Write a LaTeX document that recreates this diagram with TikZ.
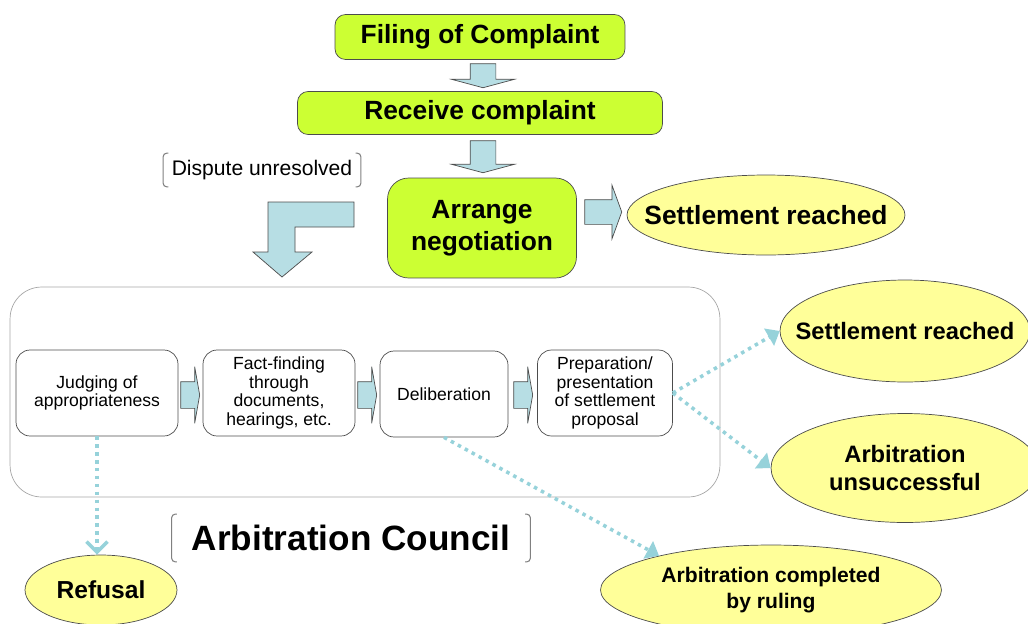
\documentclass[tikz,border=0pt]{standalone}
\usepackage{fontspec}
\setmainfont{Liberation Sans}
\usetikzlibrary{shapes.geometric,shapes.arrows,arrows.meta}
\tikzset{>=latex}
\definecolor{stepgreen}{RGB}{204,255,51}
\definecolor{endyellow}{RGB}{255,255,153}
\definecolor{flowblue}{RGB}{183,222,228}
\definecolor{dotblue}{RGB}{150,210,218}
\tikzset{
  greenbox/.style={draw=gray!60!black, fill=stepgreen, rounded corners=6pt, align=center, font=\bfseries\fontsize{15}{18}\selectfont},
  endnode/.style={draw=gray!60!black, fill=endyellow, ellipse, align=center, inner xsep=-14pt, inner ysep=0pt, font=\bfseries\fontsize{13.5}{16}\selectfont},
  stagebox/.style={draw=gray!60!black, rounded corners=8pt, minimum height=1.72cm, align=center, font=\fontsize{10}{10.5}\selectfont},
  blockarrow/.style={single arrow, draw=gray!60!black, fill=flowblue, inner xsep=0pt, single arrow tip angle=150},
  dotarrow/.style={dotblue, line width=2pt, dash pattern=on 2pt off 2.5pt, -{Triangle[length=7pt,width=11pt]}},
  bracketline/.style={draw=gray, line width=0.6pt, rounded corners=2pt}
}

\begin{document}
\begin{tikzpicture}[x=0.02cm, y=-0.02cm]
  \useasboundingbox (0,0) rectangle (1028,623);
  % upper part
  \node[greenbox, minimum width=5.8cm, minimum height=0.9cm] (filing) at (480,37) {Filing of Complaint};
  \node[greenbox, minimum width=7.3cm, minimum height=0.86cm] (receive) at (480,113) {Receive complaint};
  \node[greenbox, rounded corners=12pt, minimum width=3.78cm, minimum height=2cm] (arrange) at (482,228) {Arrange\\negotiation};
  \node[endnode, font=\bfseries\fontsize{15}{18}\selectfont, minimum width=5.56cm, minimum height=1.6cm] (settle1) at (766,215) {Settlement reached};
  \node[blockarrow, rotate=-90, inner ysep=0.25cm, minimum width=1.24cm, minimum height=0.48cm, single arrow head extend=0.37cm] (down1) at (483,74) {};
  \node[blockarrow, rotate=-90, inner ysep=0.25cm, minimum width=1.24cm, minimum height=0.64cm, single arrow head extend=0.37cm] (down2) at (483,155) {};
  \node[blockarrow, single arrow tip angle=140, inner ysep=0.24cm, minimum width=1.06cm, minimum height=0.74cm, single arrow head extend=0.29cm] (right1) at (601,212) {};
  \node[font=\fontsize{12}{14}\selectfont, minimum width=3.94cm, minimum height=0.66cm] (dispute) at (262,170) {Dispute unresolved};
  % turn arrow into the council
  \draw[draw=gray!60!black, fill=flowblue] (354,202) -- (268,202) -- (268,252) -- (253,252) -- (282,277) coordinate (turn) -- (312,252) -- (295,252) -- (295,227) -- (354,227) -- cycle;
  % arbitration council
  \node[draw=gray!70, rounded corners=18pt, minimum width=14.2cm, minimum height=4.2cm] (frame) at (365,392) {};
  \node[stagebox, minimum width=3.24cm] (judge) at (97,393) {Judging of\\appropriateness};
  \node[stagebox, minimum width=3.04cm] (fact) at (279,393) {Fact-finding\\through\\documents,\\hearings, etc.};
  \node[stagebox, minimum width=2.56cm] (delib) at (444,394) {Deliberation};
  \node[stagebox, minimum width=2.7cm] (prep) at (605,393) {Preparation/\\presentation\\of settlement\\proposal};
  \foreach \x in {189,366,522}
    \node[blockarrow, single arrow tip angle=160, inner ysep=0.26cm, minimum width=1.12cm, minimum height=0.38cm, single arrow head extend=0.3cm] at (\x,395) {};
  \node[font=\bfseries\fontsize{20}{23}\selectfont, minimum width=7.16cm, minimum height=0.94cm] (council) at (351,538) {Arbitration Council};
  \foreach \n in {dispute,council} {
    \draw[bracketline] ([xshift=3pt]\n.north west) -- (\n.north west) -- (\n.south west) -- ([xshift=3pt]\n.south west);
    \draw[bracketline] ([xshift=-3pt]\n.north east) -- (\n.north east) -- (\n.south east) -- ([xshift=-3pt]\n.south east);
  }
  % outcomes
  \node[endnode, minimum width=5cm, minimum height=2.04cm] (settle2) at (905,331) {Settlement reached};
  \node[endnode, minimum width=5.36cm, minimum height=2.18cm] (unsucc) at (905,468) {Arbitration\\unsuccessful};
  \node[endnode, font=\bfseries\fontsize{12}{14.5}\selectfont, minimum width=6.82cm, minimum height=1.8cm] (ruling) at (771,590) {Arbitration completed\\by ruling};
  \node[endnode, font=\bfseries\fontsize{14}{16}\selectfont, minimum width=3.04cm, minimum height=1.4cm] (refusal) at (101,590) {Refusal};
  \draw[dotarrow, -{Straight Barb[length=6pt,width=12pt,line width=2pt]}] (judge.south) -- (judge.south |- refusal.north);
  \draw[dotarrow] (prep.east) -- (settle2.west);
  \draw[dotarrow] (prep.east) -- (unsucc.west);
  \draw[dotarrow] (delib.south) -- (ruling.163);
\end{tikzpicture}
\end{document}
